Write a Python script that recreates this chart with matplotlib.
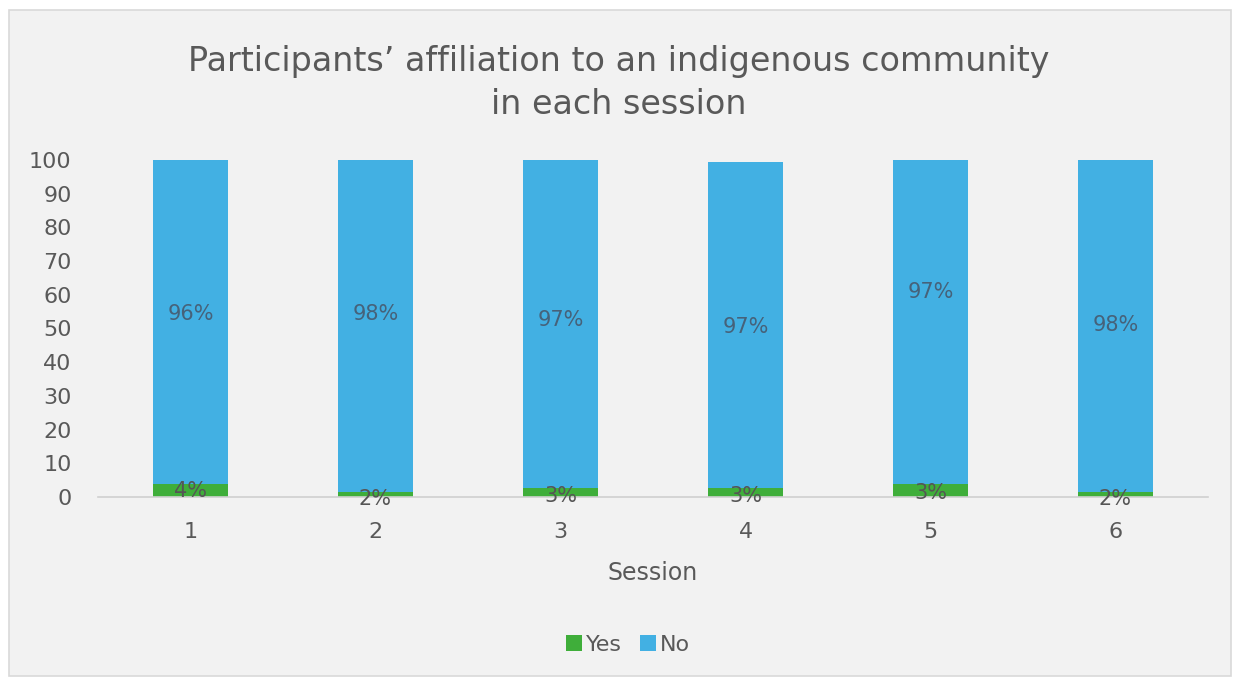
import matplotlib.pyplot as plt
import numpy as np
from matplotlib.patches import Rectangle

# Data
sessions = ["1", "2", "3", "4", "5", "6"]
yes_pct = [3.8, 1.6, 2.6, 2.6, 3.9, 1.6]
no_pct = [96.2, 98.4, 97.4, 96.8, 96.1, 98.4]
yes_labels = ["4%", "2%", "3%", "3%", "3%", "2%"]
no_labels = ["96%", "98%", "97%", "97%", "97%", "98%"]

# label placement (data units) as dragged in the original chart
yes_label_y = [1.9, -0.5, 0.4, 0.4, 1.3, -0.5]
no_label_y = [54.3, 54.3, 52.5, 50.4, 60.8, 51.0]

GREEN = "#3fae3a"
BLUE = "#42b0e3"
TEXT = "#595959"
LABEL = "#46627a"
BG = "#f2f2f2"

plt.rcParams["font.family"] = ["DejaVu Sans"]

fig = plt.figure(figsize=(12.37, 6.81), dpi=100)
fig.patch.set_facecolor("white")
# chart area frame
fig.patches.append(Rectangle((9 / 1237, 5 / 681), 1222 / 1237, 666 / 681,
                             transform=fig.transFigure, facecolor=BG,
                             edgecolor="#d9d9d9", linewidth=1.2, zorder=-5))

ax = fig.add_axes([98 / 1237, 1 - 497 / 681, 1110 / 1237, 337 / 681])
ax.set_facecolor(BG)
ax.patch.set_alpha(0)

x = np.arange(len(sessions))
w = 0.405
ax.bar(x, yes_pct, w, color=GREEN, label="Yes", zorder=2)
ax.bar(x, no_pct, w, bottom=yes_pct, color=BLUE, label="No", zorder=2)

for i in range(len(sessions)):
    ax.text(x[i], no_label_y[i], no_labels[i], ha="center", va="center",
            fontsize=15, color=LABEL, zorder=3)
    ax.text(x[i], yes_label_y[i], yes_labels[i], ha="center", va="center",
            fontsize=15, color="#555555", zorder=3)

ax.set_xlim(-0.5, len(sessions) - 0.5)
ax.set_ylim(0, 100)
ax.set_yticks(range(0, 101, 10))
ax.set_xticks(x)
ax.set_xticklabels(sessions)
ax.tick_params(axis="both", length=0, labelsize=16, colors=TEXT)
ax.tick_params(axis="y", pad=19)
ax.tick_params(axis="x", pad=18)
for side in ["top", "right", "left"]:
    ax.spines[side].set_visible(False)
ax.spines["bottom"].set_color("#d0d0d0")
ax.spines["bottom"].set_linewidth(1.2)

ax.set_xlabel("Session", fontsize=17, color=TEXT, labelpad=14)

fig.text(0.5, 1 - 83 / 681, "Participants\u2019 affiliation to an indigenous community\nin each session",
         ha="center", va="center", fontsize=24, color=TEXT, linespacing=1.4)

fig.legend(loc="center", bbox_to_anchor=(0.508, 1 - 645 / 681), ncol=2, frameon=False,
           fontsize=16, labelcolor=TEXT, handlelength=0.7, handleheight=0.7,
           handletextpad=0.2, columnspacing=0.8)

fig.savefig("out.png", dpi=100, facecolor="white")
